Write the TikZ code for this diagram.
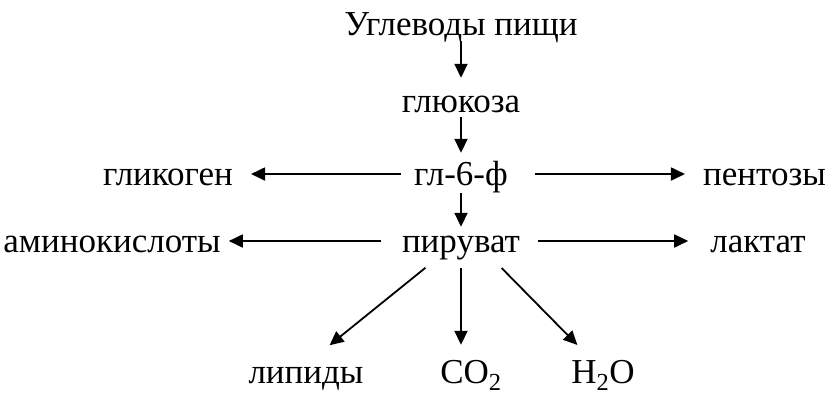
\documentclass[tikz,border=0pt]{standalone}
\usepackage{fontspec}
\setmainfont{Liberation Serif}
\usepackage{tikz}
\usetikzlibrary{arrows.meta, positioning}
\tikzstyle{line} = [draw, -{Triangle[length=14pt,width=13pt]}, line width=1.8pt]
\tikzstyle{term} = [rectangle, inner sep=1pt, text height=24pt, text depth=2pt,
  font=\fontsize{35}{42}\selectfont]

\begin{document}
\begin{tikzpicture}[x=1pt, y=-1pt, node distance=180pt]
    \useasboundingbox (0,0) rectangle (828,392);

    \node [term] (food) at (461,24) {Углеводы пищи};
    \node [term] (glc) at (461,101) {глюкоза};
    \node [term] (g6p) at (461,174) {гл-6-ф};
    \node [term] (pyr) at (461,241) {пируват};

    \node [term, left=179pt of g6p] (glycogen) {гликоген};
    \node [term, right=193pt of g6p] (pentose) {пентозы};
    \node [term, left=179pt of pyr] (amino) {аминокислоты};
    \node [term, right=188pt of pyr] (lactate) {лактат};

    \node [term] (lipid) at (306,372) {липиды};
    \node [term] (co2) at (471,372) {CO\textsubscript{2}};
    \node [term] (h2o) at (603,372) {H\textsubscript{2}O};

    \path [line, shorten <=3pt, shorten >=9pt] (food) -- (glc);
    \path [line, shorten <=2pt, shorten >=7pt] (glc) -- (g6p);
    \path [line, shorten <=5pt] (g6p) -- (pyr);

    \path [line, shorten <=12pt, shorten >=17pt] (g6p) -- (glycogen);
    \path [line, shorten <=26pt, shorten >=17pt] (g6p) -- (pentose);
    \path [line, shorten <=20pt, shorten >=7pt] (pyr) -- (amino);
    \path [line, shorten <=17pt, shorten >=21pt] (pyr) -- (lactate);

    \path [line, shorten <=20pt, shorten >=20pt] ([xshift=-20pt]pyr.south) -- ([xshift=8pt]lipid.north);
    \path [line, shorten <=13pt, shorten >=13pt] (pyr.south) -- (pyr.south |- co2.north);
    \path [line, shorten <=18pt, shorten >=18pt] ([xshift=28pt]pyr.south) -- ([xshift=-13pt]h2o.north);

  \end{tikzpicture}
\end{document}
